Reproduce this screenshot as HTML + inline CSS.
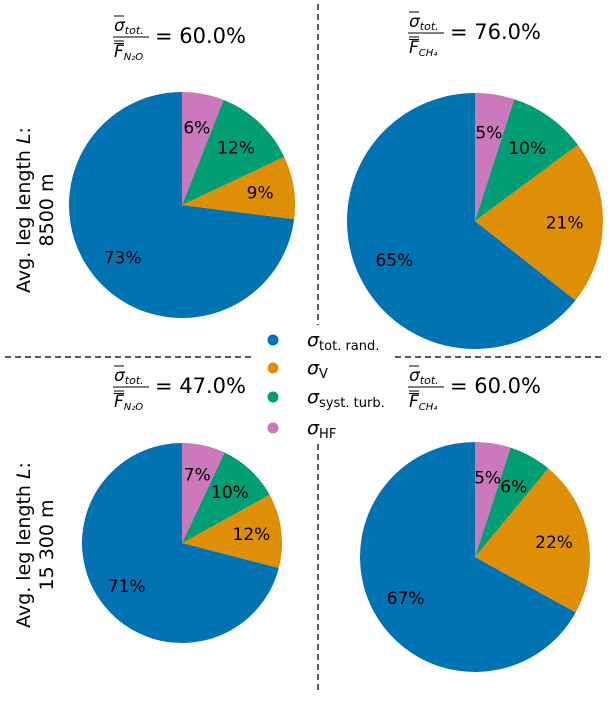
<!DOCTYPE html>
<html><head><meta charset="utf-8"><style>
body{margin:0;background:#fff}
svg text{font-family:"DejaVu Sans","Liberation Sans",sans-serif;fill:#000}
</style></head><body>
<svg id="c" width="610" height="698" viewBox="0 0 610 698">
<line x1="318" y1="4" x2="318" y2="694" stroke="#222" stroke-width="1.5" stroke-dasharray="6,4"/>
<line x1="5" y1="357" x2="605" y2="357" stroke="#222" stroke-width="1.5" stroke-dasharray="6,4"/>
<g id="pies"></g>
<g transform="translate(34,210) rotate(-90)">
<text x="0" y="-4" text-anchor="middle" font-size="19">Avg. leg length <tspan font-style="italic">L</tspan>:</text>
<text x="0" y="19" text-anchor="middle" font-size="19">8500 m</text></g>
<g transform="translate(34,545) rotate(-90)">
<text x="0" y="-4" text-anchor="middle" font-size="19">Avg. leg length <tspan font-style="italic">L</tspan>:</text>
<text x="0" y="19" text-anchor="middle" font-size="19">15 300 m</text></g>
<rect x="255" y="325" width="140" height="115" fill="#fff"/>
<g id="legend"></g>
</svg>
<script>
const NS="http://www.w3.org/2000/svg";
const categories=["tot. rand.","V","syst. turb.","HF"];
const colors=["#0173b2","#de8f05","#029e73","#cc78bc"];
const tlValues=[73,9,12,6];
const trValues=[65,21,10,5];
const blValues=[71,12,10,7];
const brValues=[67,22,6,5];
const ratioLabels=["60.0%","76.0%","47.0%","60.0%"];
const gases=["N₂O","CH₄","N₂O","CH₄"];
const panels=[
 {name:"top-left",vals:tlValues,cx:182,cy:205,r:113,tx:182,ty:36},
 {name:"top-right",vals:trValues,cx:475,cy:221,r:128,tx:477,ty:32},
 {name:"bottom-left",vals:blValues,cx:182,cy:543,r:100,tx:182,ty:386},
 {name:"bottom-right",vals:brValues,cx:475,cy:557,r:115,tx:477,ty:386}];
const root=document.getElementById('pies');
function mk(t,a,p){const e=document.createElementNS(NS,t);for(const k in a)e.setAttribute(k,a[k]);(p||root).appendChild(e);return e;}
panels.forEach((p,pi)=>{
 const g=mk('g',{});
 
 
 const tot=p.vals.reduce((a,b)=>a+b,0);
 let ang=90;
 p.vals.forEach((v,i)=>{
  const sweep=v/tot*360, a0=ang*Math.PI/180, a1=(ang+sweep)*Math.PI/180;
  const x0=p.cx+p.r*Math.cos(a0),y0=p.cy-p.r*Math.sin(a0),x1=p.cx+p.r*Math.cos(a1),y1=p.cy-p.r*Math.sin(a1);
  const path=mk('path',{d:`M${p.cx},${p.cy}L${x0},${y0}A${p.r},${p.r} 0 ${sweep>180?1:0} 0 ${x1},${y1}Z`,fill:colors[i]},g);
  
  
  const am=(ang+sweep/2)*Math.PI/180;
  const t=mk('text',{x:p.cx+0.7*p.r*Math.cos(am),y:p.cy-0.7*p.r*Math.sin(am)+6,'text-anchor':'middle','font-size':17},g);
  t.textContent=v+'%';
  
  
  ang+=sweep;
 });
 const tg=mk('g',{transform:`translate(${p.tx},${p.ty})`});
 
 
 const n=mk('text',{x:-68,y:-5,'font-size':17},tg);
 n.innerHTML='<tspan font-style="italic">σ</tspan><tspan font-size="11" font-style="italic" dy="3">tot.</tspan>';
 mk('line',{x1:-68,y1:-20,x2:-58,y2:-20,stroke:'#000','stroke-width':1},tg);
 mk('line',{x1:-69,y1:1,x2:-33,y2:1,stroke:'#000','stroke-width':1},tg);
 mk('line',{x1:-68,y1:5,x2:-58,y2:5,stroke:'#000','stroke-width':1},tg);
 mk('line',{x1:-68,y1:7.5,x2:-58,y2:7.5,stroke:'#000','stroke-width':1},tg);
 const d=mk('text',{x:-68,y:21,'font-size':17,'font-style':'italic'},tg);
 d.innerHTML='F<tspan font-size="10" dy="3">'+gases[pi]+'</tspan>';
 const r=mk('text',{x:-27,y:7,'font-size':21},tg);
 r.textContent='= '+ratioLabels[pi];
});
const lg=document.getElementById('legend');
const subs=["tot. rand.","V","syst. turb.","HF"];
const ly=[340,368,397,428];
categories.forEach((c,i)=>{
 const ci=mk('circle',{cx:273,cy:ly[i],r:5.5,fill:colors[i]},lg);
 
 
 const t=mk('text',{x:307,y:ly[i]+6,'font-size':19},lg);
 t.innerHTML='<tspan font-style="italic">σ</tspan><tspan font-size="13" dy="4">'+subs[i]+'</tspan>';
 
 
});
</script>
</body></html>
